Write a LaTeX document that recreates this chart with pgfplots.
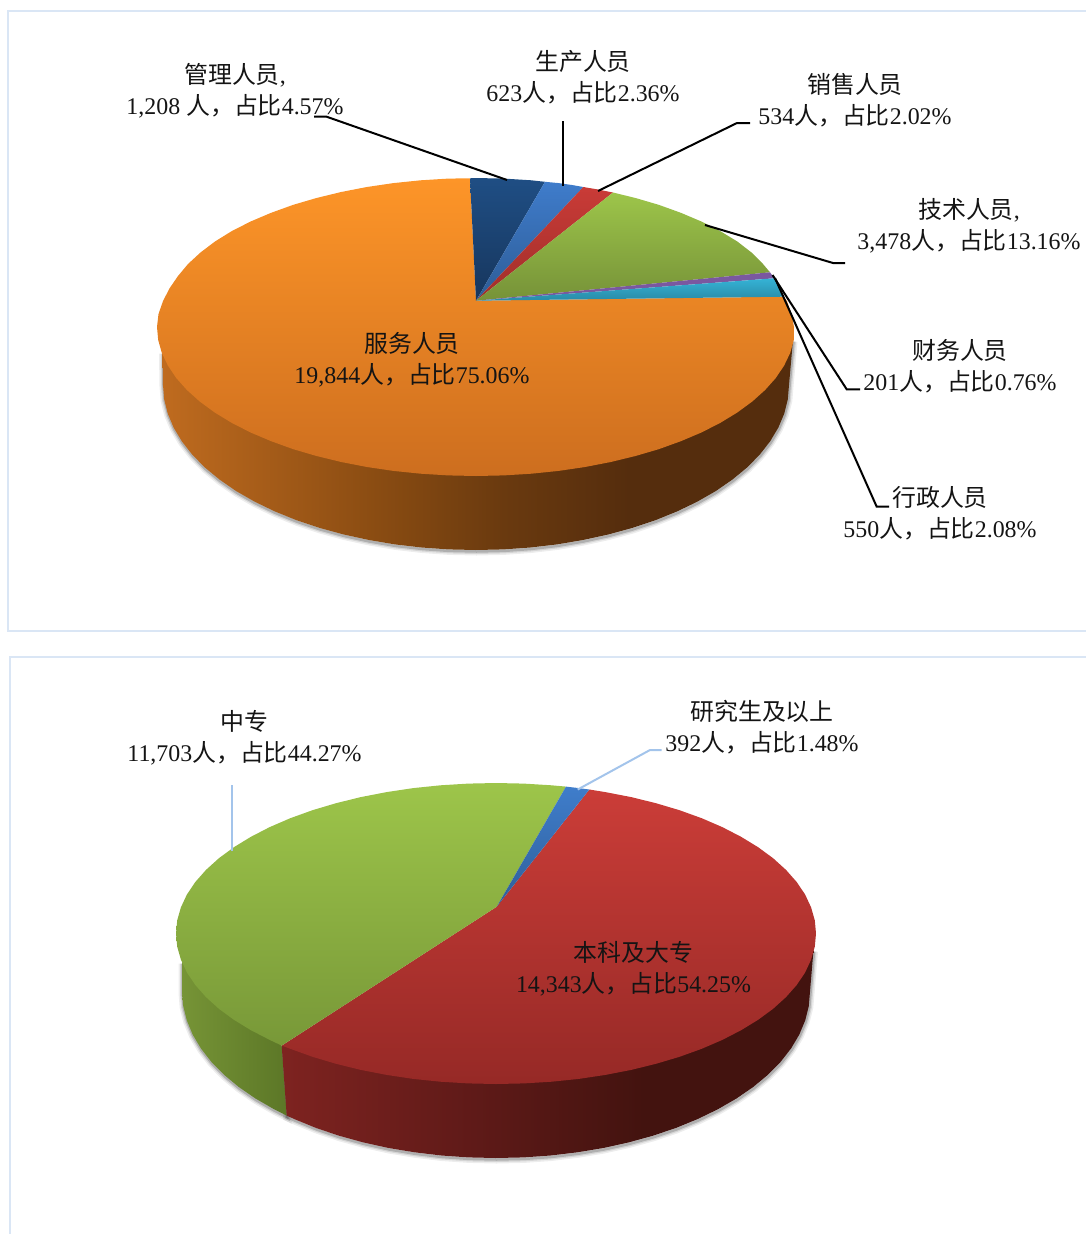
\documentclass[border=0pt]{standalone}
\usepackage{pgfplots}
\usepackage{pgfplotstable}
\usepackage{fontspec}
\pgfplotsset{compat=1.18}
\setmainfont{Liberation Serif}
\newfontfamily\cjk{Noto Sans CJK SC}
\newcommand\zh[1]{{\cjk #1}}
\definecolor{frameblue}{HTML}{DAE6F5}
\definecolor{leaderblue}{HTML}{A3C4EB}
\definecolor{sa0}{HTML}{BF6B1F}
\definecolor{sa1}{HTML}{8A4C12}
\definecolor{sa2}{HTML}{6A3A0F}
\definecolor{sa3}{HTML}{552D0D}
\definecolor{sb0}{HTML}{7E2320}
\definecolor{sb1}{HTML}{5F1A18}
\definecolor{sb2}{HTML}{43130F}
\pgfdeclarehorizontalshading{sideA}{100bp}{color(0bp)=(sa0); color(25bp)=(sa0); color(42bp)=(sa1); color(52bp)=(sa2); color(62bp)=(sa3); color(100bp)=(sa3)}
\pgfdeclarehorizontalshading{sideB}{100bp}{color(0bp)=(sb0); color(25bp)=(sb0); color(43bp)=(sb1); color(59bp)=(sb2); color(100bp)=(sb2)}

% --- first pie: visible side wall
\pgfplotstableread{
x y
793 340
789 385
787.8 399.4
784.2 413.7
778.3 427.7
770.1 441.4
759.7 454.7
747.1 467.5
732.4 479.6
715.8 491.1
697.3 501.7
677.2 511.4
655.5 520.2
632.5 527.9
608.3 534.5
583 540
557 544.4
530.3 547.5
503.3 549.4
476 550
448.7 549.4
421.7 547.5
395 544.4
369 540
343.7 534.5
319.5 527.9
296.5 520.2
274.8 511.4
254.7 501.7
236.2 491.1
219.6 479.6
204.9 467.5
192.3 454.7
181.9 441.4
173.7 427.7
167.8 413.7
164.2 399.4
163 385
162.5 352
}\sideOne

% --- second pie: side walls
\pgfplotstableread{
x y
813.5 950
810 991.5
808.8 1006
805.2 1020.4
799.3 1034.6
791.1 1048.4
780.6 1061.9
767.9 1074.8
753.2 1087
736.5 1098.5
718 1109.2
697.8 1119
676.1 1127.9
653 1135.7
628.7 1142.4
603.4 1148
577.3 1152.3
550.5 1155.5
523.4 1157.4
496 1158
468.6 1157.4
441.5 1155.5
414.7 1152.3
388.6 1148
363.3 1142.4
339 1135.7
315.9 1127.9
294.2 1119
286.7 1115.6
281.7 1045.6
}\sideTwoRed
\pgfplotstableread{
x y
281.7 1045.6
286.7 1115.6
274 1109.2
255.5 1098.5
238.8 1087
224.1 1074.8
211.4 1061.9
200.9 1048.4
192.7 1034.6
186.8 1020.4
183.2 1006
182 991.5
182 962
}\sideTwoGreen

\begin{document}
\begin{tikzpicture}
\useasboundingbox (0,0) rectangle (1086pt,1234pt);
\begin{axis}[
  at={(0,0)}, anchor=south west,
  width=1086pt, height=1234pt, scale only axis,
  xmin=0, xmax=1086, ymin=0, ymax=1234, y dir=reverse,
  hide axis, clip=false,
  nodes={font=\fontsize{23.9}{31}\selectfont, text=black!92, align=center, inner sep=0pt},
]
% frames
\addplot[frameblue, line width=2.6pt] coordinates {(1086,11) (8,11) (8,631) (1086,631)};
\addplot[frameblue, line width=2.6pt] coordinates {(1086,657) (10,657) (10,1234)};

% shadows, pie 1
\addplot[draw=black, opacity=.07, line width=8pt, xshift=.5pt, yshift=-1.5pt] table {\sideOne};
\addplot[draw=black, opacity=.10, line width=5pt, xshift=.5pt, yshift=-1.5pt] table {\sideOne};
\addplot[draw=black, opacity=.18, line width=2.5pt, xshift=.5pt, yshift=-1.5pt] table {\sideOne};
% side, pie 1
\addplot[draw=none, shade, shading=sideA] table {\sideOne} -- cycle;

% top face, pie 1: 服务人员 19844
\addplot[draw=none, shade, top color={rgb,255:red,253;green,149;blue,40}, bottom color={rgb,255:red,205;green,110;blue,31}] coordinates {
(476,300.7) (783.3,296.7) (787,301.1) (791.5,314) (794,327)
(793.8,340) (790.2,352.9) (784.1,365.6) (775.8,378) (765.1,390) (752.3,401.5)
(737.3,412.5) (720.4,422.8) (701.6,432.4) (681.1,441.1) (659,449.1) (635.5,456)
(610.8,462) (585.1,467) (558.6,470.9) (531.4,473.7) (503.8,475.4) (476,476)
(448.2,475.4) (420.6,473.7) (393.4,470.9) (366.9,467) (341.2,462) (316.5,456)
(293,449.1) (270.9,441.1) (250.4,432.4) (231.6,422.8) (214.7,412.5) (199.7,401.5)
(186.9,390) (176.2,378) (167.9,365.6) (161.8,352.9) (158.2,340) (157,327)
(158.5,314) (163,301.1) (169.5,288.4) (178,276) (188,264) (200.5,252.5)
(215,241.5) (231.6,231.2) (250.4,221.6) (270.9,212.9) (293,204.9) (316.5,198)
(341.2,192) (366.9,187) (393.4,183.1) (420.6,180.3) (448.2,178.6) (470,178.3)
} -- cycle;
% 管理人员 1208
\addplot[draw=none, shade, top color={rgb,255:red,31;green,78;blue,132}, bottom color={rgb,255:red,23;green,54;blue,93}] coordinates {
(476,300.7) (470,178.3) (476,178) (503.8,178.6) (531.4,180.3) (545,181.8)
} -- cycle;
% 生产人员 623
\addplot[draw=none, shade, top color={rgb,255:red,63;green,124;blue,203}, bottom color={rgb,255:red,45;green,92;blue,150}] coordinates {
(476,300.7) (545,181.8) (558.6,183.1) (572,185) (583.3,187)
} -- cycle;
% 销售人员 534
\addplot[draw=none, shade, top color={rgb,255:red,201;green,59;blue,55}, bottom color={rgb,255:red,160;green,46;blue,42}] coordinates {
(476,300.7) (583.3,187) (598,189.5) (613,192.5)
} -- cycle;
% 技术人员 3478
\addplot[draw=none, shade, top color={rgb,255:red,157;green,197;blue,74}, bottom color={rgb,255:red,118;green,146;blue,56}] coordinates {
(476,300.7) (613,192.5) (635.5,198) (659,204.9) (681.1,212.9) (701.6,221.6)
(720.4,231.2) (737.3,241.5) (751.5,252.5) (763,264) (770,272.3)
} -- cycle;
% 财务人员 201
\addplot[draw=none, fill={rgb,255:red,122;green,88;blue,160}] coordinates {
(476,300.7) (770,272.3) (774.3,278.3)
} -- cycle;
% 行政人员 550
\addplot[draw=none, shade, top color={rgb,255:red,53;green,179;blue,214}, bottom color={rgb,255:red,41;green,138;blue,166}] coordinates {
(476,300.7) (774.3,278.3) (778.5,287) (783.3,296.7)
} -- cycle;

% leaders, pie 1
\addplot[black, line width=2pt] coordinates {(314,116.5) (326,116.5) (507,180)};
\addplot[black, line width=2pt] coordinates {(563,121) (563,186)};
\addplot[black, line width=2pt] coordinates {(750,123) (737,123) (598,191)};
\addplot[black, line width=2pt] coordinates {(705,225) (833,263) (845,263)};
\addplot[black, line width=2pt] coordinates {(772.5,275) (846.7,389.3) (860,389.3)};
\addplot[black, line width=2pt] coordinates {(775,278) (876.7,506.7) (889,506.7)};

% shadows, pie 2
\addplot[draw=black, opacity=.07, line width=8pt, xshift=.5pt, yshift=-1.5pt] table {\sideTwoRed};
\addplot[draw=black, opacity=.10, line width=5pt, xshift=.5pt, yshift=-1.5pt] table {\sideTwoRed};
\addplot[draw=black, opacity=.18, line width=2.5pt, xshift=.5pt, yshift=-1.5pt] table {\sideTwoRed};
\addplot[draw=black, opacity=.07, line width=8pt, xshift=.5pt, yshift=-1.5pt] table {\sideTwoGreen};
\addplot[draw=black, opacity=.10, line width=5pt, xshift=.5pt, yshift=-1.5pt] table {\sideTwoGreen};
\addplot[draw=black, opacity=.18, line width=2.5pt, xshift=.5pt, yshift=-1.5pt] table {\sideTwoGreen};
% sides, pie 2
\addplot[draw=none, shade, left color={rgb,255:red,118;green,148;blue,54}, right color={rgb,255:red,92;green,119;blue,39}] table {\sideTwoGreen} -- cycle;
\addplot[draw=none, shade, shading=sideB] table {\sideTwoRed} -- cycle;

% top face, pie 2: 本科及大专 14343
\addplot[draw=none, shade, top color={rgb,255:red,203;green,61;blue,56}, bottom color={rgb,255:red,150;green,41;blue,38}] coordinates {
(496.7,906.7) (589.3,789.5) (605.4,792.1) (631.2,797.1) (656,803.2) (679.5,810.2)
(701.7,818.2) (722.3,827.1) (741.1,836.8) (758.1,847.2) (773.1,858.2) (786,869.9)
(796.7,882) (805.1,894.5) (811.1,907.4) (814.8,920.4) (816,933.5)
(814.8,946.6) (811.1,959.6) (805.1,972.5) (796.7,985) (786,997.1) (773.1,1008.8)
(758.1,1019.8) (741.1,1030.2) (722.3,1039.9) (701.7,1048.8) (679.5,1056.8) (656,1063.8)
(631.2,1069.9) (605.4,1074.9) (578.8,1078.9) (551.6,1081.7) (523.9,1083.4) (496,1084)
(468.1,1083.4) (440.4,1081.7) (413.2,1078.9) (386.6,1074.9) (360.8,1069.9) (336,1063.8)
(312.5,1056.8) (290.3,1048.8) (281.7,1045.6)
} -- cycle;
% 中专 11703
\addplot[draw=none, shade, top color={rgb,255:red,157;green,197;blue,74}, bottom color={rgb,255:red,120;green,152;blue,56}] coordinates {
(496.7,906.7) (281.7,1045.6) (269.7,1039.9) (250.9,1030.2) (233.9,1019.8) (218.9,1008.8)
(206,997.1) (195.3,985) (186.9,972.5) (180.9,959.6) (177.2,946.6) (176,933.5)
(177.2,920.4) (180.9,907.4) (186.9,894.5) (195.3,882) (206,869.9) (218.9,858.2)
(233.9,847.2) (250.9,836.8) (269.7,827.1) (290.3,818.2) (312.5,810.2) (336,803.2)
(360.8,797.1) (386.6,792.1) (413.2,788.1) (440.4,785.3) (468.1,783.6) (496,783)
(523.9,783.6) (551.6,785.3) (566,786.6)
} -- cycle;
% 研究生及以上 392
\addplot[draw=none, shade, top color={rgb,255:red,63;green,125;blue,203}, bottom color={rgb,255:red,47;green,95;blue,153}] coordinates {
(496.7,906.7) (566,786.6) (578,788) (589.3,789.5)
} -- cycle;

% leaders, pie 2
\addplot[leaderblue, line width=2pt] coordinates {(232,785) (232,851)};
\addplot[leaderblue, line width=2pt] coordinates {(577.7,789.5) (650,750) (661.7,750)};

% labels, pie 1
\node at (axis cs:235,90.5) {\zh{管理人员},\\1,208 \zh{人，占比}4.57\%};
\node at (axis cs:583,77.5) {\zh{生产人员}\\623\zh{人，占比}2.36\%};
\node at (axis cs:855,100.5) {\zh{销售人员}\\534\zh{人，占比}2.02\%};
\node at (axis cs:969,225.5) {\zh{技术人员},\\3,478\zh{人，占比}13.16\%};
\node at (axis cs:960,366.5) {\zh{财务人员}\\201\zh{人，占比}0.76\%};
\node at (axis cs:940,513.5) {\zh{行政人员}\\550\zh{人，占比}2.08\%};
\node at (axis cs:412,359.5) {\zh{服务人员}\\19,844\zh{人，占比}75.06\%};
% labels, pie 2
\node at (axis cs:244.5,737.5) {\zh{中专}\\11,703\zh{人，占比}44.27\%};
\node at (axis cs:762,727.5) {\zh{研究生及以上}\\392\zh{人，占比}1.48\%};
\node at (axis cs:633.5,968.5) {\zh{本科及大专}\\14,343\zh{人，占比}54.25\%};
\end{axis}
\end{tikzpicture}
\end{document}
